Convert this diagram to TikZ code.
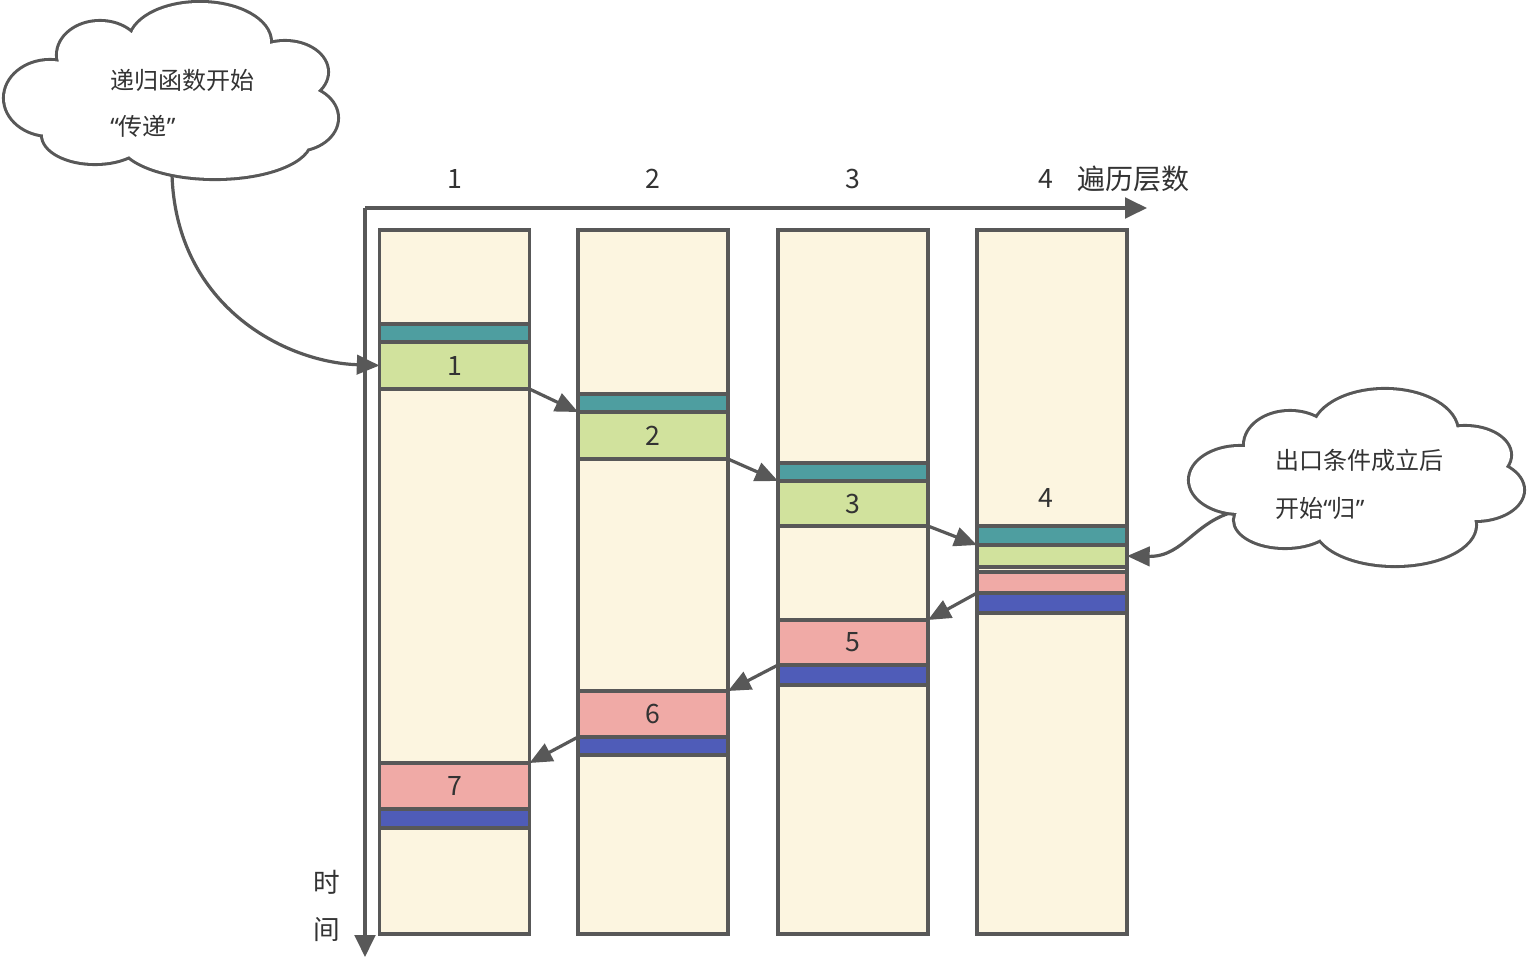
\documentclass[tikz,border=0pt]{standalone}
\usepackage{fontspec}
\setmainfont{Noto Sans CJK SC}
\newfontfamily\latinq{Noto Sans}
\usetikzlibrary{arrows.meta}
\definecolor{strk}{HTML}{585858}
\definecolor{cream}{HTML}{FCF5E0}
\definecolor{tealc}{HTML}{4E9EA0}
\definecolor{greenc}{HTML}{D1E29D}
\definecolor{pinkc}{HTML}{F0AAA6}
\definecolor{bluec}{HTML}{4F5CB8}
\definecolor{txt}{HTML}{333333}
\newcommand\lbfont{\fontsize{20}{24}\selectfont}
\newcommand\cldfont{\fontsize{18}{22}\selectfont}
\newcommand\cellp[4]{(#1,#2) ellipse [x radius=#3*0.75pt, y radius=#4*0.75pt]}
\tikzset{
  ln/.style={draw=strk, line width=2.4pt},
  colbox/.style={ln, fill=cream, minimum width=112.5pt, minimum height=528pt, inner sep=0pt, outer sep=0pt},
  band/.style={ln, minimum width=112.5pt, minimum height=#1*0.75pt, inner sep=0pt, outer sep=0pt, font=\lbfont, text=txt},
  teal/.style={band=#1, fill=tealc},
  green/.style={band=#1, fill=greenc},
  pink/.style={band=#1, fill=pinkc},
  blue/.style={band=#1, fill=bluec},
  arr/.style={ln, -{Triangle[length=17pt,width=14.5pt]}},
  axarr/.style={ln, -{Triangle[length=16.5pt,width=15.5pt]}},
  lbl/.style={font=\lbfont, text=txt, inner sep=0pt},
  cldtxt/.style={font=\cldfont, text=txt, inner sep=0pt, anchor=west},
}
\begin{document}
\begin{tikzpicture}[x=0.75pt,y=-0.75pt]
\useasboundingbox (0,0) rectangle (1529,967);
% columns
\node[colbox] (c1) at (454.5,582) {};
\node[colbox] (c2) at (653,582) {};
\node[colbox] (c3) at (853,582) {};
\node[colbox] (c4) at (1052,582) {};
% column 1
\node[teal=18] (t1) at (454.5,333) {};
\node[green=47] (g1) at (454.5,365.5) {1};
\node[pink=46] (p1) at (454.5,786) {7};
\node[blue=19] (b1) at (454.5,818.5) {};
% column 2
\node[teal=18] (t2) at (653,403) {};
\node[green=47] (g2) at (653,435.5) {2};
\node[pink=46] (p2) at (653,714) {6};
\node[blue=18] (b2) at (653,746) {};
% column 3
\node[teal=18] (t3) at (853,472) {};
\node[green=45] (g3) at (853,503.5) {3};
\node[pink=45] (p3) at (853,642.5) {5};
\node[blue=20] (b3) at (853,675) {};
% column 4
\node[teal=19] (t4) at (1052,535.5) {};
\node[green=22] (g4) at (1052,556) {};
\node[pink=21] (p4) at (1052,582.5) {};
\node[blue=20] (b4) at (1052,603) {};
\node[lbl] (n4) at (1046,498) {4};
% axes
\coordinate (O) at (365,208);
\coordinate (xend) at (1147,208);
\coordinate (yend) at (365,957);
\draw[axarr] (O) -- (xend);
\draw[axarr] (O) -- (yend);
\node[lbl] (h1) at (455,179) {1};
\node[lbl] (h2) at (653,179) {2};
\node[lbl] (h3) at (853,179) {3};
\node[lbl] (h4) at (1046,179) {4};
\node[lbl, font=\fontsize{21}{25}\selectfont] (xl) at (1133,179) {遍历层数};
\node[lbl] (y1) at (327,882) {时};
\node[lbl] (y2) at (327,930) {间};
% forward arrows
\draw[arr] (g1.south east) -- (t2.south west);
\draw[arr] (g2.south east) -- (t3.south west);
\draw[arr] (g3.south east) -- (t4.south west);
% backward arrows
\draw[arr] (p4.south west) -- (p3.north east);
\draw[arr] (p3.south west) -- (p2.north east);
\draw[arr] (p2.south west) -- (p1.north east);
% cloud connectors
\coordinate (k1) at (172,160);
\coordinate (k2) at (1242,510);
\draw[arr] (k1) .. controls (168,300) and (280,362) .. (g1.west);
\draw[arr] (k2) .. controls (1195,518) and (1185,557) .. (g4.east);
% cloud 1
\path[draw=strk, line width=4.6pt]
  \cellp{200}{42}{70}{39} \cellp{100}{55}{42}{33} \cellp{50}{98}{45}{37}
  \cellp{95}{135}{52}{28} \cellp{215}{140}{95}{38} \cellp{295}{118}{42}{32}
  \cellp{285}{72}{42}{30} \cellp{170}{95}{120}{55};
\path[fill=white]
  \cellp{200}{42}{70}{39} \cellp{100}{55}{42}{33} \cellp{50}{98}{45}{37}
  \cellp{95}{135}{52}{28} \cellp{215}{140}{95}{38} \cellp{295}{118}{42}{32}
  \cellp{285}{72}{42}{30} \cellp{170}{95}{120}{55};
% cloud 2
\path[draw=strk, line width=4.6pt]
  \cellp{1385}{432}{72}{42} \cellp{1290}{445}{45}{33} \cellp{1240}{480}{50}{33}
  \cellp{1285}{520}{50}{27} \cellp{1395}{525}{80}{40} \cellp{1475}{490}{48}{30}
  \cellp{1465}{455}{45}{28} \cellp{1360}{480}{110}{50};
\path[fill=white]
  \cellp{1385}{432}{72}{42} \cellp{1290}{445}{45}{33} \cellp{1240}{480}{50}{33}
  \cellp{1285}{520}{50}{27} \cellp{1395}{525}{80}{40} \cellp{1475}{490}{48}{30}
  \cellp{1465}{455}{45}{28} \cellp{1360}{480}{110}{50};
% cloud texts
\node[cldtxt] (ct1) at (110,80) {递归函数开始};
\node[cldtxt] (ct2) at (110,126) {{\latinq “}传递{\latinq ”}};
\node[cldtxt] (ct3) at (1275,460) {出口条件成立后};
\node[cldtxt] (ct4) at (1275,508) {开始{\latinq “}归{\latinq ”}};
\end{tikzpicture}
\end{document}
